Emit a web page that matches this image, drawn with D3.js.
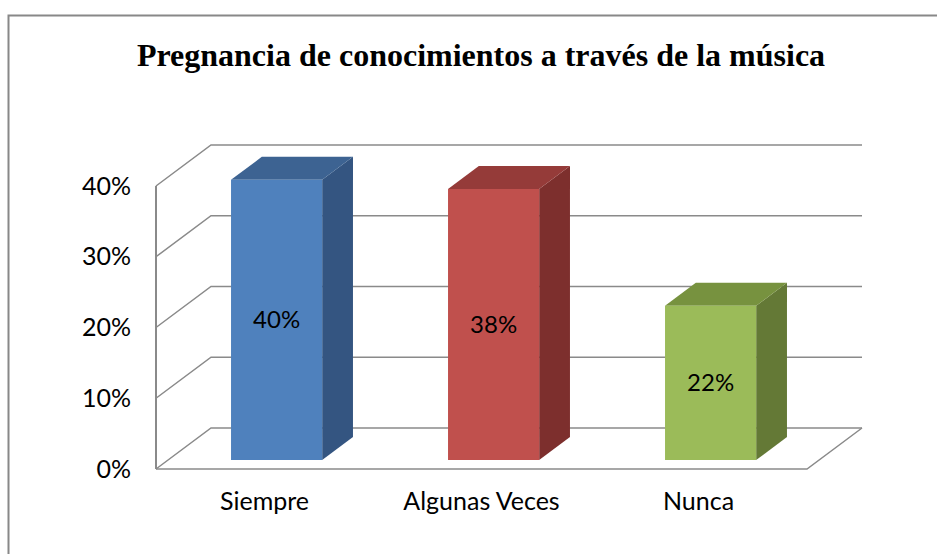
<!DOCTYPE html>
<html>
<head>
<meta charset="utf-8">
<style>
  body { margin: 0; background: #fff; }
  .grid { fill: none; stroke: #8a8a8a; stroke-width: 1.5; }
  .axis text { font-family: Lato, sans-serif; font-size: 25px; fill: #000; }
  .label { font-family: Lato, sans-serif; font-size: 24px; fill: #000; }
  .title { font-family: "Liberation Serif", "Times New Roman", serif; font-size: 32px; font-weight: bold; }
</style>
</head>
<body>
<script src="https://d3js.org/d3.v7.min.js"></script>
<div id="chart"></div>
<script>
// data
var categories = ["Siempre", "Algunas Veces", "Nunca"];
var values = [39.6, 38.3, 21.8];
var valueLabels = ["40%", "38%", "22%"];
var yTicks = [0, 10, 20, 30, 40];
var frontColors = ["#4f81bd", "#c0504d", "#9bbb59"];
var topColors = ["#3d6392", "#953b39", "#77923f"];
var sideColors = ["#345581", "#7d2f2d", "#647936"];

var width = 937, height = 554;
var left = 156, right = 807, floorY = 469;
var depthX = 55, depthY = 41;     // oblique offset of the back wall
var z0 = 0.22, z1 = 0.78;         // bar depth inside the box

var x = d3.scaleBand()
    .domain(categories)
    .range([left, right])
    .paddingInner(0.58)
    .paddingOuter(0.29);

var h = d3.scaleLinear().domain([0, 40]).range([0, 283]);
var yFront = d3.scaleLinear().domain([0, 40]).range([floorY, floorY - 283]);

// project (front-plane x, value, depth) to screen
function proj(px, v, z) {
  return [px + depthX * z, floorY - h(v) - depthY * z];
}

var svg = d3.select("#chart").append("svg")
    .attr("width", width)
    .attr("height", height);

// outer border
svg.append("rect")
    .attr("x", 8.5).attr("y", 15.5)
    .attr("width", 960).attr("height", 600)
    .attr("fill", "none")
    .attr("stroke", "#888")
    .attr("stroke-width", 2);

svg.append("text")
    .attr("class", "title")
    .attr("x", 481).attr("y", 66)
    .attr("text-anchor", "middle")
    .text("Pregnancia de conocimientos a través de la música");

// walls and gridlines
var line = d3.line();
yTicks.forEach(function(t) {
  svg.append("path")
      .attr("class", "grid")
      .attr("d", line([proj(left, t, 0), proj(left, t, 1), proj(right, t, 1)]));
});
// floor front and right edges
svg.append("path")
    .attr("class", "grid")
    .attr("d", line([proj(left, 0, 0), proj(right, 0, 0), proj(right, 0, 1)]));
// front vertical axis
svg.append("path")
    .attr("class", "grid")
    .style("stroke-width", 2)
    .attr("d", line([proj(left, 0, 0), proj(left, 40, 0)]));

// bars
var bars = svg.selectAll(".bar")
    .data(values)
    .enter().append("g")
    .attr("class", "bar");

bars.append("path")
    .attr("fill", function(d, i) { return sideColors[i]; })
    .attr("d", function(d, i) {
      var xr = x(categories[i]) + x.bandwidth();
      return line([proj(xr, 0, z0), proj(xr, 0, z1), proj(xr, d, z1), proj(xr, d, z0)]) + "Z";
    });

bars.append("path")
    .attr("fill", function(d, i) { return topColors[i]; })
    .attr("d", function(d, i) {
      var xl = x(categories[i]), xr = xl + x.bandwidth();
      return line([proj(xl, d, z0), proj(xr, d, z0), proj(xr, d, z1), proj(xl, d, z1)]) + "Z";
    });

bars.append("path")
    .attr("fill", function(d, i) { return frontColors[i]; })
    .attr("d", function(d, i) {
      var xl = x(categories[i]), xr = xl + x.bandwidth();
      return line([proj(xl, 0, z0), proj(xr, 0, z0), proj(xr, d, z0), proj(xl, d, z0)]) + "Z";
    });

bars.append("text")
    .attr("class", "label")
    .attr("text-anchor", "middle")
    .attr("dy", "0.35em")
    .attr("x", function(d, i) { return proj(x(categories[i]) + x.bandwidth() / 2, d / 2, z0)[0]; })
    .attr("y", function(d, i) { return proj(0, d / 2, z0)[1]; })
    .text(function(d, i) { return valueLabels[i]; });

// axes
svg.append("g")
    .attr("class", "axis")
    .attr("transform", "translate(" + left + ",0)")
    .call(d3.axisLeft(yFront).tickValues(yTicks).tickSize(0).tickPadding(25)
      .tickFormat(function(d) { return d + "%"; }))
    .call(function(g) { g.select(".domain").remove(); });

var xFront = x.copy().paddingInner(0).paddingOuter(0);
svg.append("g")
    .attr("class", "axis")
    .attr("transform", "translate(0," + floorY + ")")
    .call(d3.axisBottom(xFront).tickSize(0).tickPadding(23))
    .call(function(g) { g.select(".domain").remove(); });

svg.selectAll(".axis text").attr("font-family", null).attr("font-size", null);
</script>
</body>
</html>
